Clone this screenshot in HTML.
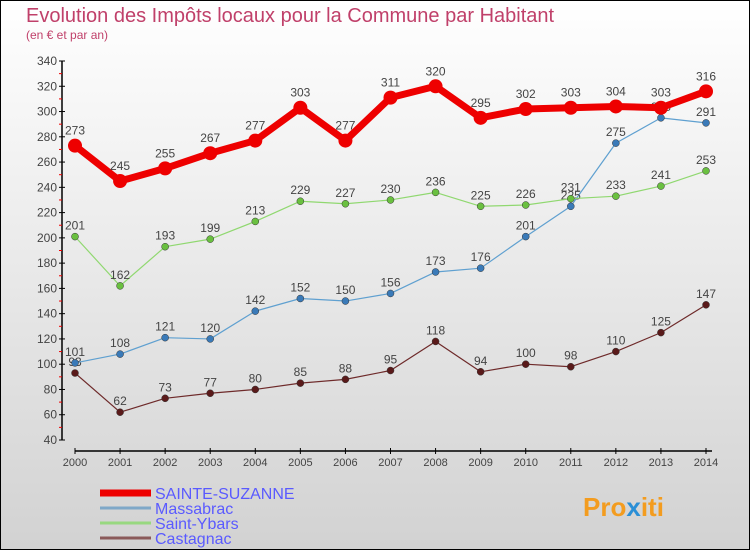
<!DOCTYPE html>
<html><head><meta charset="utf-8"><style>
body{margin:0;width:750px;height:550px;overflow:hidden;font-family:"Liberation Sans",sans-serif}
svg{display:block}
</style></head><body>
<svg id="c" width="750" height="550">
<defs><linearGradient id="bg" x1="0" y1="0" x2="0" y2="1"><stop offset="0" stop-color="#ffffff"/><stop offset="1" stop-color="#d2d2d2"/></linearGradient></defs>
<rect x="0.5" y="0.5" width="749" height="549" fill="url(#bg)" stroke="#000"/>
<text x="26" y="22" font-size="20" fill="#c0406a">Evolution des Impôts locaux pour la Commune par Habitant</text>
<text x="26" y="39" font-size="12" fill="#c0406a">(en € et par an)</text>
<g id="axes"></g><g id="series"></g><g id="legend"></g>
<text x="583" y="516" font-size="26" font-weight="bold" fill="#f39c1f">Pro<tspan fill="#2a8fd6">x</tspan>iti</text>
</svg>
<script>
const years=[2000,2001,2002,2003,2004,2005,2006,2007,2008,2009,2010,2011,2012,2013,2014];
const yTicks=[40,60,80,100,120,140,160,180,200,220,240,260,280,300,320,340];
const seriesNames=["SAINTE-SUZANNE","Massabrac","Saint-Ybars","Castagnac"];
const sainteSuzanne=[273,245,255,267,277,303,277,311,320,295,302,303,304,303,316];
const massabrac=[101,108,121,120,142,152,150,156,173,176,201,225,275,295,291];
const saintYbars=[201,162,193,199,213,229,227,230,236,225,226,231,233,241,253];
const castagnac=[93,62,73,77,80,85,88,95,118,94,100,98,110,125,147];
const NS="http://www.w3.org/2000/svg";
function X(i){return 75+i*(706-75)/(years.length-1);}
function Y(v){return 440-(v-40)*(440-61)/300;}
function mk(t,a,p){const e=document.createElementNS(NS,t);for(const k in a)e.setAttribute(k,a[k]);p.appendChild(e);return e;}
const ax=document.getElementById('axes');
let l=mk('line',{x1:62,y1:61,x2:62,y2:440,stroke:'#000','stroke-width':1.5},ax);


yTicks.forEach((v,i)=>{
 const t=mk('line',{x1:59,y1:Y(v),x2:65,y2:Y(v),stroke:'#000'},ax);
 
 
 if(i<yTicks.length-1){const m=mk('line',{x1:59,y1:Y(v+10),x2:62,y2:Y(v+10),stroke:'#e00'},ax);
 
 }
 const tx=mk('text',{x:57,y:Y(v)+4,'font-size':12,fill:'#444','text-anchor':'end'},ax);tx.textContent=v;
 
 
});
l=mk('line',{x1:75,y1:451,x2:712,y2:451,stroke:'#000','stroke-width':1.5},ax);


years.forEach((y,i)=>{
 const t=mk('line',{x1:X(i),y1:448,x2:X(i),y2:454,stroke:'#000'},ax);
 
 
 const tx=mk('text',{x:X(i),y:466,'font-size':11,fill:'#444','text-anchor':'middle'},ax);tx.textContent=y;
 
 
});
const sg=document.getElementById('series');
const defs=[[castagnac,'#6e2a2a','#5a1a1a',1.2,3.5,'castagnac'],[massabrac,'#5fa0d0','#3a7ab8',1.2,3.5,'massabrac'],[saintYbars,'#90d870','#6ac040',1.2,3.5,'saint-ybars'],[sainteSuzanne,'#ee0000','#ee0000',7,7,'sainte-suzanne']];
defs.forEach(([d,c,pc,w,r,n])=>{
 const g=mk('g',{},sg);
 
 
 const p=mk('polyline',{points:d.map((v,i)=>X(i)+','+Y(v)).join(' '),fill:'none',stroke:c,'stroke-width':w,'stroke-linejoin':'round'},g);
 
 
 d.forEach((v,i)=>{
  const ci=mk('circle',{cx:X(i),cy:Y(v),r:r,fill:pc,stroke:r>5?'none':'#333','stroke-width':0.5},g);
  
  
  const tx=mk('text',{x:X(i),y:Y(v)-(r>5?11:7),'font-size':12,fill:'#444','text-anchor':'middle'},g);tx.textContent=v;
  
  
 });
});
const lg=document.getElementById('legend');
const lcol=['#ee0000','#7fa8c8','#98d880','#8a5a5a'],lw=[7,3,3,3],ly=[493,508,523,538];
seriesNames.forEach((s,i)=>{
 const ln=mk('line',{x1:100,y1:ly[i],x2:151,y2:ly[i],stroke:lcol[i],'stroke-width':lw[i]},lg);
 
 
 const tx=mk('text',{x:155,y:ly[i]+6,'font-size':16,fill:'#5a5aff'},lg);tx.textContent=s;
 
 
});
</script>
</body></html>
